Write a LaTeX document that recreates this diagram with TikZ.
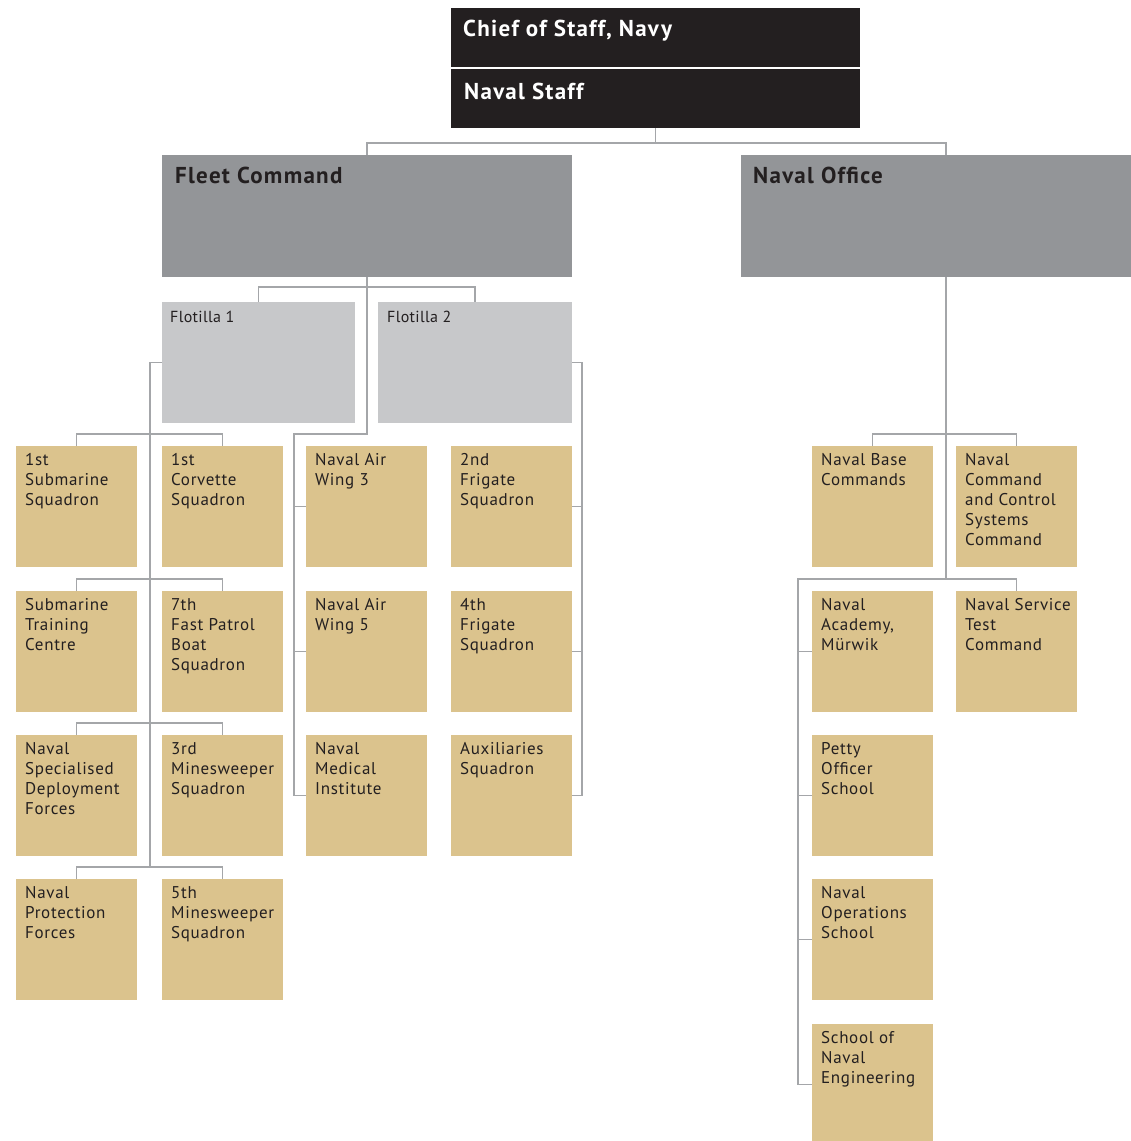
\documentclass[tikz,border=0pt]{standalone}
\usepackage{fontspec}
\setmainfont{PT Sans}
\setsansfont{PT Sans}
\newfontfamily\titlef[LetterSpace=5.5]{PT Sans}
\newfontfamily\tanf[LetterSpace=4]{PT Sans}
\newfontfamily\flof[LetterSpace=2]{PT Sans}
\usetikzlibrary{calc}
\definecolor{boxblack}{HTML}{231F20}
\definecolor{midgray}{HTML}{939598}
\definecolor{lightgray}{HTML}{C7C8CA}
\definecolor{tanfill}{HTML}{DBC38D}
\definecolor{linegray}{HTML}{A4A6A9}
\definecolor{txtdark}{HTML}{231F20}
\tikzset{
  basebox/.style={anchor=north west, inner sep=0pt, outer sep=0pt, draw=none},
  tanbox/.style={basebox, fill=tanfill, minimum width=121pt, minimum height=121pt},
  tantext/.style={anchor=north west, inner sep=0pt, align=left, text=txtdark,
     font=\tanf\fontsize{17}{20}\selectfont},
  flotext/.style={anchor=north west, inner sep=0pt, align=left, text=txtdark,
     font=\flof\fontsize{16}{19}\selectfont},
  bigtext/.style={anchor=north west, inner sep=0pt, align=left,
     font=\titlef\bfseries\fontsize{23}{26}\selectfont},
  conn/.style={draw=linegray, line width=1.8pt},
}
\newcommand\tanb[4]{%
  \node[tanbox] (#1) at (#2,#3) {};
  \node[tantext] (#1-t) at ([xshift=9pt,yshift=-7pt]#1.north west) {#4};}
\begin{document}
\begin{tikzpicture}[x=1pt,y=-1pt]
\useasboundingbox (0,0) rectangle (1131,1141);
% top boxes
\node[basebox, fill=boxblack, minimum width=409pt, minimum height=59pt] (chief) at (451,8) {};
\node[bigtext, text=white] (chief-t) at ([xshift=12pt,yshift=-12pt]chief.north west) {Chief of Staff, Navy};
\node[basebox, fill=boxblack, minimum width=409pt, minimum height=59pt] (staff) at (451,69) {};
\node[bigtext, text=white] (staff-t) at ([xshift=13pt,yshift=-14pt]staff.north west) {Naval Staff};
% second level
\node[basebox, fill=midgray, minimum width=410pt, minimum height=122pt] (fleet) at (162,155) {};
\node[bigtext, text=txtdark] (fleet-t) at ([xshift=13pt,yshift=-12pt]fleet.north west) {Fleet Command};
\node[basebox, fill=midgray, minimum width=390pt, minimum height=122pt] (office) at (741,155) {};
\node[bigtext, text=txtdark] (office-t) at ([xshift=12pt,yshift=-12pt]office.north west) {Naval Office};
% flotillas
\node[basebox, fill=lightgray, minimum width=193pt, minimum height=121pt] (fl1) at (162,302) {};
\node[flotext] (fl1-t) at ([xshift=8pt,yshift=-9pt]fl1.north west) {Flotilla 1};
\node[basebox, fill=lightgray, minimum width=194pt, minimum height=121pt] (fl2) at (378,302) {};
\node[flotext] (fl2-t) at ([xshift=9pt,yshift=-9pt]fl2.north west) {Flotilla 2};
% tan boxes, left part
\tanb{sub1}{16}{446}{1st\\Submarine\\Squadron}
\tanb{stc}{16}{591}{Submarine\\Training\\Centre}
\tanb{nsdf}{16}{735}{Naval\\Specialised\\Deployment\\Forces}
\tanb{npf}{16}{879}{Naval\\Protection\\Forces}
\tanb{cor1}{162}{446}{1st\\Corvette\\Squadron}
\tanb{fpb7}{162}{591}{7th\\Fast Patrol\\Boat\\Squadron}
\tanb{ms3}{162}{735}{3rd\\Minesweeper\\Squadron}
\tanb{ms5}{162}{879}{5th\\Minesweeper\\Squadron}
\tanb{naw3}{306}{446}{Naval Air\\Wing 3}
\tanb{naw5}{306}{591}{Naval Air\\Wing 5}
\tanb{nmi}{306}{735}{Naval\\Medical\\Institute}
\tanb{fr2}{451}{446}{2nd\\Frigate\\Squadron}
\tanb{fr4}{451}{591}{4th\\Frigate\\Squadron}
\tanb{aux}{451}{735}{Auxiliaries\\Squadron}
% tan boxes, right part
\tanb{nbc}{812}{446}{Naval Base\\Commands}
\tanb{nccs}{956}{446}{Naval\\Command\\and Control\\Systems\\Command}
\tanb{acad}{812}{591}{Naval\\Academy,\\Mürwik}
\tanb{nst}{956}{591}{Naval Service\\Test\\Command}
\tanb{pos}{812}{735}{Petty\\Officer\\School}
\tanb{nos}{812}{879}{Naval\\Operations\\School}
\tanb{sne}{812}{1024}{School of\\Naval\\Engineering}
% ---- connectors ----
\coordinate (j0) at ([yshift=-15pt]staff.south);
\coordinate (offtop) at ([xshift=205pt]office.north west);
\coordinate (offbot) at ([xshift=205pt]office.south west);
\draw[conn] (staff.south) -- (j0);
\draw[conn] (fleet.north) |- (j0) -| (offtop);
% fleet command
\coordinate (fj) at ([yshift=-10pt]fleet.south);
\coordinate (fj2) at ([yshift=12pt]naw3.north);
\coordinate (fvx) at ([xshift=-12pt]naw3.west);
\draw[conn] (fl1.north) |- (fj) -| (fl2.north);
\draw[conn] (fleet.south) -- (fleet.south |- fj2) -- (fvx |- fj2) -- (fvx |- nmi.west) -- (nmi.west);
\draw[conn] (fvx |- naw3.west) -- (naw3.west);
\draw[conn] (fvx |- naw5.west) -- (naw5.west);
% flotilla 1
\coordinate (f1x) at ([xshift=-12pt]cor1.west);
\coordinate (r4j) at ([yshift=12pt]npf.north);
\draw[conn] (fl1.west) -- (f1x |- fl1.west) -- (f1x |- r4j);
\draw[conn] (sub1.north) -- ++(0,-12) -| (cor1.north);
\draw[conn] (stc.north) -- ++(0,-12) -| (fpb7.north);
\draw[conn] (nsdf.north) -- ++(0,-12) -| (ms3.north);
\draw[conn] (npf.north) -- ++(0,-12) -| (ms5.north);
% flotilla 2
\coordinate (f2x) at ([xshift=10pt]fl2.east);
\draw[conn] (fl2.east) -- (f2x) |- (aux.east);
\draw[conn] (fr2.east) -- (f2x |- fr2.east);
\draw[conn] (fr4.east) -- (f2x |- fr4.east);
% naval office
\coordinate (nj1) at ([yshift=12pt]nbc.north);
\coordinate (nj2) at ([yshift=12pt]nst.north);
\coordinate (nvx) at ([xshift=-14pt]acad.west);
\draw[conn] (offbot) -- (offbot |- nj2);
\draw[conn] (nbc.north) -- (nj1) -| (nccs.north);
\draw[conn] (nst.north) -- (nst.north |- nj2) -- (nvx |- nj2) -- (nvx |- sne.west) -- (sne.west);
\draw[conn] (nvx |- acad.west) -- (acad.west);
\draw[conn] (nvx |- pos.west) -- (pos.west);
\draw[conn] (nvx |- nos.west) -- (nos.west);
\end{tikzpicture}
\end{document}
